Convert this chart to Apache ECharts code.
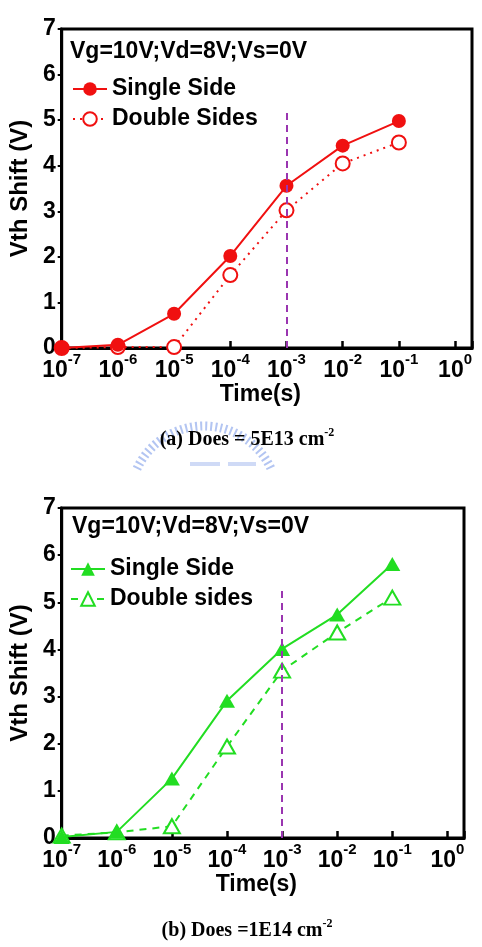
<!DOCTYPE html>
<html><head><meta charset="utf-8">
<script src="https://cdn.jsdelivr.net/npm/echarts@6/dist/echarts.min.js"></script>
<style>
html,body{margin:0;padding:0;background:#fff;width:482px;height:947px;overflow:hidden}
.c{position:absolute;left:0;top:0;width:482px;height:947px}
</style>
</head><body>
<div id="a" class="c"></div><div id="b" class="c"></div>
<script>
// ---- data ----
const times = [1e-7, 1e-6, 1e-5, 1e-4, 1e-3, 1e-2, 1e-1];
const singleA = [0, 0.07, 0.75, 2.02, 3.56, 4.44, 4.98];
const doubleA = [0, 0.02, 0.02, 1.60, 3.02, 4.05, 4.51];
const singleB = [0.02, 0.13, 1.26, 2.91, 4.01, 4.74, 5.81];
const doubleB = [0.05, 0.12, 0.25, 1.94, 3.55, 4.36, 5.10];
const namesA = ['Single Side', 'Double Sides'];
const namesB = ['Single Side', 'Double sides'];
const conditionText = 'Vg=10V;Vd=8V;Vs=0V';
const xTitle = 'Time(s)';
const yTitle = 'Vth Shift (V)';
const xRange = [1e-7, 2];
const yRange = [0, 7];
const yStep = 1;
const markTime = 1e-3;
const markTop = 5.25;
const captionA = ['(a) Does = 5E13 cm', '-2'];
const captionB = ['(b) Does =1E14 cm', '-2'];

const FONT = '"Liberation Sans", Arial, sans-serif';
const SERIF = '"Liberation Serif", "Times New Roman", serif';
const pairs = (xs, ys) => xs.map((x, i) => [x, ys[i]]);

function makeOption(c) {
  return {
    animation: false,
    grid: { left: 55, top: c.top, width: c.width, height: c.height, show: true,
      borderColor: '#000', borderWidth: 3, backgroundColor: 'transparent' },
    xAxis: {
      type: 'log', logBase: 10, min: xRange[0], max: xRange[1],
      name: xTitle, nameLocation: 'middle', nameGap: 33,
      nameTextStyle: { fontFamily: FONT, fontWeight: 'bold', fontSize: 23, color: '#000', padding: [0, 13, 0, 0] },
      axisLine: { show: true, lineStyle: { color: '#000', width: 3 } },
      axisTick: { show: true, inside: true, length: 7, lineStyle: { color: '#000', width: 2.5 } },
      minorTick: { show: false }, splitLine: { show: false }, minorSplitLine: { show: false },
      axisLabel: {
        margin: 4, color: '#000',
        formatter: v => {
          const e = Math.log10(v), r = Math.round(e);
          if (Math.abs(e - r) > 1e-6) return '';
          return '{b|10}{s|' + r + '}';
        },
        rich: {
          b: { fontFamily: FONT, fontWeight: 'bold', fontSize: 23, lineHeight: 37, color: '#000' },
          s: { fontFamily: FONT, fontWeight: 'bold', fontSize: 15, lineHeight: 15, verticalAlign: 'top', color: '#000' }
        }
      }
    },
    yAxis: {
      type: 'value', min: yRange[0], max: yRange[1], interval: yStep,
      name: yTitle, nameLocation: 'middle', nameGap: c.yNameGap, nameRotate: 90,
      nameTextStyle: { fontFamily: FONT, fontWeight: 'bold', fontSize: 24, color: '#000' },
      axisLine: { show: true, lineStyle: { color: '#000', width: 3 } },
      axisTick: { show: true, inside: false, length: 4, lineStyle: { color: '#000', width: 2 } },
      splitLine: { show: false },
      axisLabel: { margin: 6, fontFamily: FONT, fontWeight: 'bold', fontSize: 23, color: '#000' }
    },
    legend: {
      orient: 'vertical', left: c.legendLeft, top: c.legendTop, itemGap: 6, padding: 0,
      itemWidth: 34, itemHeight: 17,
      textStyle: { fontFamily: FONT, fontWeight: 'bold', fontSize: 23, lineHeight: 24, color: '#000' },
      data: c.names
    },
    graphic: c.graphic,
    series: [
      { name: c.names[0], type: 'line', data: pairs(times, c.single),
        symbol: c.sym[0], symbolSize: c.symSize, showSymbol: true,
        lineStyle: { color: c.color, width: 2 }, itemStyle: { color: c.color },
        z: 3,
        markLine: {
          silent: true, symbol: 'none', label: { show: false },
          lineStyle: { color: '#9a35b0', width: 2, type: [7, 5] },
          data: [[{ coord: [markTime, yRange[0]] }, { coord: [markTime, markTop] }]]
        }
      },
      { name: c.names[1], type: 'line', data: pairs(times, c.dbl),
        symbol: c.sym[1], symbolSize: c.symSize, showSymbol: true,
        lineStyle: { color: c.color, width: 2, type: c.dash }, itemStyle: { color: c.color, borderWidth: 1.5 },
        z: 2 }
    ]
  };
}

function textG(x, y, text, opts) {
  return Object.assign({ type: 'text', x: x, y: y, z: 10,
    style: Object.assign({ text: text, fill: '#000', fontFamily: FONT, fontWeight: 'bold', fontSize: 23, verticalAlign: 'middle' }, opts || {}) });
}
function captionG(x, y, parts) {
  return { type: 'text', x: x, y: y, z: 10, style: {
    text: '{m|' + parts[0] + '}{s|' + parts[1] + '}', align: 'center', verticalAlign: 'middle',
    rich: {
      m: { fontFamily: SERIF, fontWeight: 'bold', fontSize: 20, lineHeight: 26, fill: '#000' },
      s: { fontFamily: SERIF, fontWeight: 'bold', fontSize: 12, lineHeight: 12, verticalAlign: 'top', fill: '#000' }
    } } };
}

const watermark = [
  { type: 'arc', z: 1, shape: { cx: 204, cy: 500, r: 74, startAngle: 205 * Math.PI / 180, endAngle: 335 * Math.PI / 180 },
    style: { stroke: '#b3c5f2', lineWidth: 9, lineDash: [2, 3], fill: null } },
  { type: 'rect', z: 1, shape: { x: 190, y: 462, width: 30, height: 4 }, style: { fill: '#cfdaf6' } },
  { type: 'rect', z: 1, shape: { x: 228, y: 462, width: 28, height: 4 }, style: { fill: '#cfdaf6' } }
];

const chartA = echarts.init(document.getElementById('a'), null, { renderer: 'canvas' });
chartA.setOption(makeOption({
  top: 29, width: 417, height: 319, yNameGap: 26,
  legendLeft: 72, legendTop: 77, names: namesA,
  single: singleA, dbl: doubleA, color: '#f01010', sym: ['circle', 'emptyCircle'], symSize: 14,
  dash: [2, 5],
  graphic: [textG(70, 52, conditionText), captionG(247, 440, captionA)].concat(watermark)
}));

const chartB = echarts.init(document.getElementById('b'), null, { renderer: 'canvas' });
chartB.setOption(makeOption({
  top: 508, width: 409, height: 330, yNameGap: 29,
  legendLeft: 70, legendTop: 557, names: namesB,
  single: singleB, dbl: doubleB, color: '#22dd22', sym: ['triangle', 'emptyTriangle'], symSize: [16, 14],
  dash: [7, 6],
  graphic: [textG(72, 527, conditionText), captionG(247, 931, captionB)]
}));
</script>
</body></html>
